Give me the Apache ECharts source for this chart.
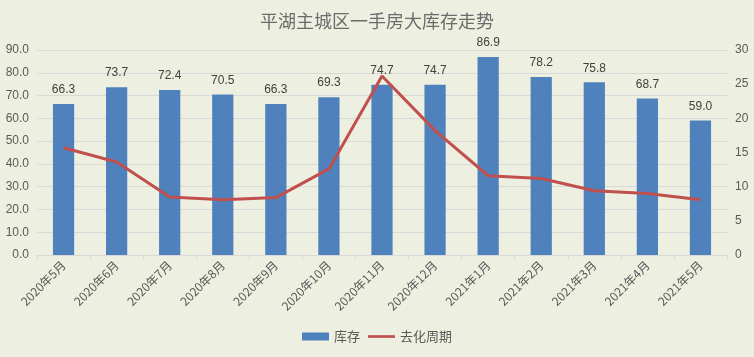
<!DOCTYPE html>
<html><head><meta charset="utf-8">
<script src="https://cdn.jsdelivr.net/npm/echarts@6/dist/echarts.min.js"></script>
<style>html,body{margin:0;padding:0;background:#EDF0E1;}#c{width:754px;height:357px;}</style>
</head><body><div id="c"></div>
<script>
const categories = ['2020年5月','2020年6月','2020年7月','2020年8月','2020年9月','2020年10月','2020年11月','2020年12月','2021年1月','2021年2月','2021年3月','2021年4月','2021年5月'];
const inventory = [66.3,73.7,72.4,70.5,66.3,69.3,74.7,74.7,86.9,78.2,75.8,68.7,59.0];
const cycle = [15.7,13.6,8.5,8.1,8.4,12.6,26.2,18.2,11.6,11.2,9.4,9.0,8.1];
const leftTicks = {min:0,max:90,interval:10};
const rightTicks = {min:0,max:30,interval:5};
const chart = echarts.init(document.getElementById('c'));
const txt = '#595959';
chart.setOption({
  backgroundColor:'#EDF0E1',
  animation:false,
  title:{text:'平湖主城区一手房大库存走势',left:'center',top:7,textStyle:{color:'#6b6b6b',fontSize:18,fontWeight:'normal',fontFamily:'Noto Sans CJK SC'}},
  grid:{left:37,right:27,top:50,bottom:102},
  legend:{bottom:9,left:'center',itemWidth:27,itemHeight:8,itemGap:8,textStyle:{color:txt,fontSize:13,fontFamily:'Noto Sans CJK SC'},
    data:[{name:'库存',icon:'rect'},{name:'去化周期',icon:'path://M0,0 L30,0 L30,3 L0,3 Z',itemWidth:29,itemHeight:3}]},
  xAxis:{type:'category',data:categories,
    axisLine:{lineStyle:{color:'#D9D9D9'}},axisTick:{show:true,lineStyle:{color:'#D9D9D9'}},
    axisLabel:{rotate:45,color:txt,fontSize:12,interval:0,margin:8,fontFamily:'Noto Sans CJK SC'}},
  yAxis:[
    {type:'value',min:leftTicks.min,max:leftTicks.max,interval:leftTicks.interval,
      axisLine:{show:false},axisTick:{show:false},
      splitLine:{lineStyle:{color:'#D9D9D9'}},
      axisLabel:{color:txt,fontSize:12,formatter:v=>v.toFixed(1),margin:8}},
    {type:'value',min:rightTicks.min,max:rightTicks.max,interval:rightTicks.interval,
      axisLine:{show:false},axisTick:{show:false},splitLine:{show:false},
      axisLabel:{color:txt,fontSize:12,margin:8}}
  ],
  series:[
    {name:'库存',type:'bar',data:inventory,barWidth:'40%',itemStyle:{color:'#4F81BD'},
      label:{show:true,position:'top',distance:8,color:'#404040',fontSize:12,formatter:p=>p.value.toFixed(1)}},
    {name:'去化周期',type:'line',yAxisIndex:1,data:cycle,symbol:'none',lineStyle:{color:'#C0504D',width:3},itemStyle:{color:'#C0504D'}}
  ]
});
</script></body></html>
